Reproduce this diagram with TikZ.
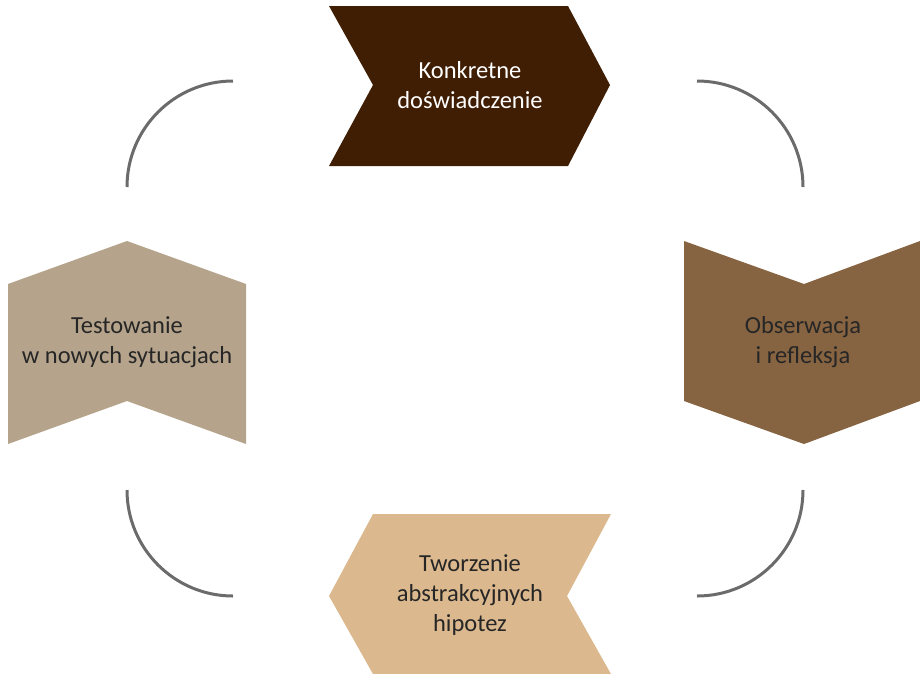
\documentclass[tikz,border=0pt]{standalone}
\usepackage{fontspec}
\setmainfont{Carlito}
\definecolor{cDark}{HTML}{3F1E04}
\definecolor{cMid}{HTML}{876441}
\definecolor{cGrey}{HTML}{B5A48B}
\definecolor{cSand}{HTML}{DBB88D}
\definecolor{cText}{HTML}{262626}
\definecolor{cArc}{HTML}{6B6B6B}
\begin{document}
\begin{tikzpicture}[x=1pt,y=-1pt,
  label/.style={align=center,font=\fontsize{24.5}{30}\selectfont,text=cText,inner sep=0pt},
  cycle arc/.style={draw=cArc,line width=3pt}]
\useasboundingbox (0,0) rectangle (920,673);

% four chevrons of the cycle
\fill[cDark] (329,6) -- (568,6) -- (610,85) -- (568,166) -- (329,166) -- (373,85) -- cycle;
\fill[cMid]  (684,241) -- (804,284) -- (920,241) -- (920,401) -- (804,444) -- (684,401) -- cycle;
\fill[cSand] (373,514) -- (611,514) -- (567,596) -- (611,674) -- (373,674) -- (329,596) -- cycle;
\fill[cGrey] (127,241) -- (246,284) -- (246,444) -- (127,401) -- (8,444) -- (8,284) -- cycle;

% labels
\node[label,text=white] (konk) at (470,85) {Konkretne\\doświadczenie};
\node[label] (obs) at (803,342) {Obserwacja\\i refleksja};
\node[label] (tw) at (470,595) {Tworzenie\\abstrakcyjnych\\hipotez};
\node[label] (test) at (127,342) {Testowanie\\w nowych sytuacjach};

% connecting quarter arcs
\coordinate (a1) at (233,81);
\coordinate (a2) at (697,81);
\coordinate (a3) at (803,490);
\coordinate (a4) at (127,490);
\draw[cycle arc] (a1) arc[start angle=270,end angle=180,radius=106];
\draw[cycle arc] (a2) arc[start angle=270,end angle=360,radius=106];
\draw[cycle arc] (a3) arc[start angle=0,end angle=90,radius=106];
\draw[cycle arc] (a4) arc[start angle=180,end angle=90,radius=106];
\end{tikzpicture}
\end{document}
